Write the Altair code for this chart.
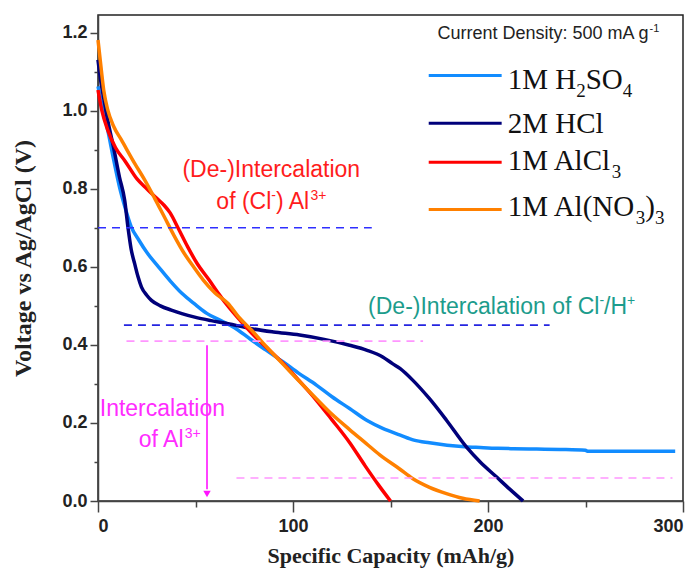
import altair as alt
import pandas as pd

# ---------------- discharge curves (capacity in mAh/g, voltage vs Ag/AgCl in V)
h2so4_cap = [0, 2, 5, 8, 11, 14, 17, 21, 25, 31, 37, 43, 50, 56, 63, 70, 78, 86, 95,
             103, 112, 120, 129, 138, 146, 155, 162, 170, 179, 188, 196, 205, 213,
             225, 237, 250, 251, 265, 280, 296]
h2so4_v = [1.062, 1.015, 0.950, 0.875, 0.805, 0.750, 0.703, 0.668, 0.637, 0.600, 0.564,
           0.532, 0.503, 0.480, 0.462, 0.444, 0.415, 0.387, 0.356, 0.327, 0.297, 0.267,
           0.237, 0.206, 0.186, 0.169, 0.156, 0.149, 0.143, 0.139, 0.137, 0.135, 0.134,
           0.133, 0.132, 0.130, 0.1275, 0.1275, 0.1275, 0.1275]

hcl_cap = [0, 1, 3, 5, 8, 11, 13.7, 15.4, 17, 18.8, 20.5, 22.3, 25, 27.4, 32, 37.6, 43,
           49.6, 58, 66.7, 78, 90, 103.4, 116, 129, 138, 146, 151, 155, 161.5, 170,
           178.7, 189, 196, 204.3, 211, 218]
hcl_v = [1.13, 1.09, 1.03, 0.975, 0.905, 0.830, 0.770, 0.700, 0.645, 0.608, 0.575, 0.548,
         0.527, 0.514, 0.500, 0.489, 0.480, 0.471, 0.462, 0.454, 0.442, 0.433, 0.425,
         0.414, 0.399, 0.386, 0.369, 0.352, 0.339, 0.309, 0.262, 0.207, 0.138, 0.100,
         0.062, 0.031, 0.0]

alcl3_cap = [0, 2, 5, 9, 14, 20, 25, 30, 34, 37, 41, 46, 51, 57, 62, 67, 73, 79, 86, 95,
             103, 112, 120, 129, 137, 144, 150]
alcl3_v = [1.053, 1.000, 0.950, 0.905, 0.870, 0.825, 0.800, 0.776, 0.757, 0.738, 0.700,
           0.651, 0.607, 0.566, 0.530, 0.497, 0.462, 0.429, 0.395, 0.352, 0.309, 0.258,
           0.208, 0.150, 0.090, 0.040, 0.0]

alno3_cap = [0, 1.7, 3, 5, 8, 12, 18.8, 24, 29, 34, 39, 44, 49, 54, 60, 66.7, 72, 78.7,
             86.4, 95, 103, 112, 120, 129, 137.6, 144.5, 154.7, 161.5, 170, 178.7, 187,
             195.7]
alno3_v = [1.181, 1.104, 1.050, 1.002, 0.960, 0.925, 0.865, 0.822, 0.776, 0.728, 0.680,
           0.636, 0.600, 0.566, 0.533, 0.506, 0.472, 0.438, 0.395, 0.350, 0.308, 0.262,
           0.222, 0.183, 0.147, 0.118, 0.082, 0.057, 0.035, 0.019, 0.007, 0.0]

series_names = ["1M H2SO4", "2M HCl", "1M AlCl3", "1M Al(NO3)3"]
series_colors = ["#128cff", "#00007a", "#ff0000", "#ff8000"]
series_caps = [h2so4_cap, hcl_cap, alcl3_cap, alno3_cap]
series_volts = [h2so4_v, hcl_v, alcl3_v, alno3_v]

# ---------------- guide lines (dashed) and arrow
guide_x0 = [0, 13.3, 14.6, 71]
guide_x1 = [140.4, 231.6, 166.7, 294.6]
guide_v = [0.700, 0.4505, 0.4095, 0.059]
guide_colors = ["#2f2fff", "#2424e0", "#ff96ff", "#ff96ff"]

arrow_cap = 55.9
arrow_top = 0.399
arrow_tip = 0.018

# ---------------- legend sample lines
legend_x0, legend_x1 = 169.6, 207.0
legend_line_v = [1.090, 0.968, 0.868, 0.747]
legend_text_x = 210.1
legend_base_v = [1.0565, 0.9427, 0.847, 0.729]

# ---------------- plot geometry
X_MAX, Y_MAX = 300, 1.245
PLOT_W, PLOT_H = 585, 486
PX_PER_X = PLOT_W / X_MAX
PX_PER_Y = PLOT_H / Y_MAX

ARIAL = {' ': 278, '(': 333, ')': 333, '-': 333, '/': 278, ':': 278, '.': 278,
         '+': 584, 'A': 667, 'C': 722, 'D': 722, 'H': 722, 'I': 278, 'a': 556,
         'c': 500, 'e': 556, 'f': 278, 'g': 556, 'i': 222, 'l': 222, 'm': 833,
         'n': 556, 'o': 556, 'r': 333, 's': 500, 't': 278, 'u': 556, 'y': 500}
TIMES = {' ': 250, '(': 333, ')': 333, 'A': 722, 'C': 667, 'H': 722, 'M': 889,
         'N': 722, 'O': 722, 'S': 556, 'l': 278}


def text_width(s, size, table, digit):
    return sum(table.get(ch, digit) for ch in s) * size / 1000.0


def rich_text(parts, x0, base, size, color, table, digit, small, shift_sup, shift_sub):
    """Lay out a run of normal / superscript / subscript pieces left to right."""
    rows = []
    x_px = 0.0
    for txt, kind in parts:
        fs = size if kind == "n" else small
        dy = 0.0
        if kind == "sup":
            dy = shift_sup
        elif kind == "sub":
            dy = -shift_sub
        rows.append({"x": x0 + x_px / PX_PER_X, "y": base + dy / PX_PER_Y,
                     "t": txt, "fs": fs, "c": color})
        x_px += text_width(txt, fs, table, digit)
    return rows


sans_rows = []
red = "#ff1c1c"
teal = "#1c9c8c"
magenta = "#ff2cff"
sans_rows += rich_text([("(De-)Intercalation", "n")], 43.3, 0.830, 23, red,
                       ARIAL, 556, 14, 9, 0)
sans_rows += rich_text([("of (Cl", "n"), ("-", "sup"), (") Al", "n"), ("3+", "sup")],
                       60.7, 0.749, 23, red, ARIAL, 556, 14, 9, 0)
sans_rows += rich_text([("(De-)Intercalation of Cl", "n"), ("-", "sup"), ("/H", "n"),
                        ("+", "sup")], 138.5, 0.480, 23, teal, ARIAL, 556, 14, 9, 0)
sans_rows += rich_text([("Intercalation", "n")], 0.9, 0.219, 23, magenta,
                       ARIAL, 556, 14, 9, 0)
sans_rows += rich_text([("of Al", "n"), ("3+", "sup")], 20.9, 0.138, 23, magenta,
                       ARIAL, 556, 14, 9, 0)
sans_rows += rich_text([("Current Density: 500 mA g", "n"), ("-1", "sup")], 174.1,
                       1.1845, 18, "#222222", ARIAL, 556, 11, 7, 0)

legend_parts = [
    [("1M H", "n"), ("2", "sub"), ("SO", "n"), ("4", "sub")],
    [("2M HCl", "n")],
    [("1M AlCl", "n"), ("3", "sub")],
    [("1M Al(NO", "n"), ("3", "sub"), (")", "n"), ("3", "sub")],
]
serif_rows = []
for parts, base in zip(legend_parts, legend_base_v):
    serif_rows += rich_text(parts, legend_text_x, base, 29, "#111111", TIMES, 500,
                            19, 0, 8)

# ---------------- tables
curve_rows = []
for name, caps, volts in zip(series_names, series_caps, series_volts):
    for c, v in zip(caps, volts):
        curve_rows.append({"series": name, "cap": c, "v": v})
curves = pd.DataFrame(curve_rows)

guides = pd.DataFrame({"x0": guide_x0, "x1": guide_x1, "v": guide_v, "c": guide_colors})
legend_lines = pd.DataFrame({"x0": [legend_x0] * 4, "x1": [legend_x1] * 4,
                             "v": legend_line_v, "c": series_colors})
arrow = pd.DataFrame({"x": [arrow_cap], "y0": [arrow_top], "y1": [arrow_tip + 0.012]})
arrow_head = pd.DataFrame({"x": [arrow_cap], "y": [arrow_tip]})
sans_df = pd.DataFrame(sans_rows)
serif_df = pd.DataFrame(serif_rows)

# ---------------- scales / axes (shared by every layer so they merge into one)
x_scale = alt.Scale(domain=[0, X_MAX], nice=False, zero=False)
y_scale = alt.Scale(domain=[0, Y_MAX], nice=False, zero=False)

x_axis = alt.Axis(
    values=[0, 50, 100, 150, 200, 250, 300],
    labelExpr="datum.value % 100 == 0 ? datum.label : ''",
    tickSize={"condition": {"test": "datum.value % 100 == 0", "value": 11}, "value": 6},
    title="Specific Capacity (mAh/g)", grid=False, labelPadding=5, titlePadding=10,
    titleFontSize=22,
)
y_axis = alt.Axis(
    values=[round(i * 0.1, 1) for i in range(13)],
    labelExpr="round(datum.value * 10) % 2 == 0 ? format(datum.value, '.1f') : ''",
    tickSize={"condition": {"test": "round(datum.value * 10) % 2 == 0", "value": 8},
              "value": 4},
    title="Voltage vs Ag/AgCl (V)", grid=False, labelPadding=3, titlePadding=26,
    titleFontSize=24,
)


def X(field):
    return alt.X(field, scale=x_scale, axis=x_axis)


def Y(field):
    return alt.Y(field, scale=y_scale, axis=y_axis)


lines = alt.Chart(curves).mark_line(strokeWidth=3.5, interpolate="monotone").encode(
    x=X("cap:Q"),
    y=Y("v:Q"),
    color=alt.Color("series:N", scale=alt.Scale(domain=series_names, range=series_colors),
                    legend=None),
    order=alt.Order("cap:Q"),
    detail="series:N",
)

guide_layer = alt.Chart(guides).mark_rule(strokeWidth=1.6, strokeDash=[8, 6]).encode(
    x=X("x0:Q"),
    x2="x1:Q",
    y=Y("v:Q"),
    color=alt.Color("c:N", scale=None),
)

arrow_layer = alt.Chart(arrow).mark_rule(strokeWidth=1.6, color="#ff14ff").encode(
    x=X("x:Q"),
    y=Y("y0:Q"),
    y2="y1:Q",
)
head_layer = alt.Chart(arrow_head).mark_point(
    shape="triangle-down", filled=True, size=55, color="#ff14ff", opacity=1
).encode(
    x=X("x:Q"),
    y=Y("y:Q"),
)

legend_layer = alt.Chart(legend_lines).mark_rule(strokeWidth=3).encode(
    x=X("x0:Q"),
    x2="x1:Q",
    y=Y("v:Q"),
    color=alt.Color("c:N", scale=None),
)


def text_layer(df, font):
    return alt.Chart(df).mark_text(align="left", baseline="alphabetic", font=font).encode(
        x=X("x:Q"),
        y=Y("y:Q"),
        text="t:N",
        size=alt.Size("fs:Q", scale=None, legend=None),
        color=alt.Color("c:N", scale=None),
    )


chart = alt.layer(
    lines, guide_layer, arrow_layer, head_layer, legend_layer,
    text_layer(sans_df, "Liberation Sans"), text_layer(serif_df, "Liberation Serif"),
).properties(
    width=PLOT_W, height=PLOT_H,
    padding={"left": 98, "top": 15, "right": 17, "bottom": 67},
    autosize=alt.AutoSizeParams(type="none"),
    background="white",
).configure_view(
    stroke="#222222", strokeWidth=1.5,
).configure_axis(
    domainColor="#444444", domainWidth=1.5, tickColor="#444444", tickWidth=1.5,
    labelFont="Liberation Sans", labelFontWeight="bold", labelFontSize=18,
    labelColor="#222222",
    titleFont="Liberation Serif", titleFontWeight="bold",
    titleColor="#222222",
)

chart.save("out.html", embed_options={"renderer": "svg", "actions": False})
